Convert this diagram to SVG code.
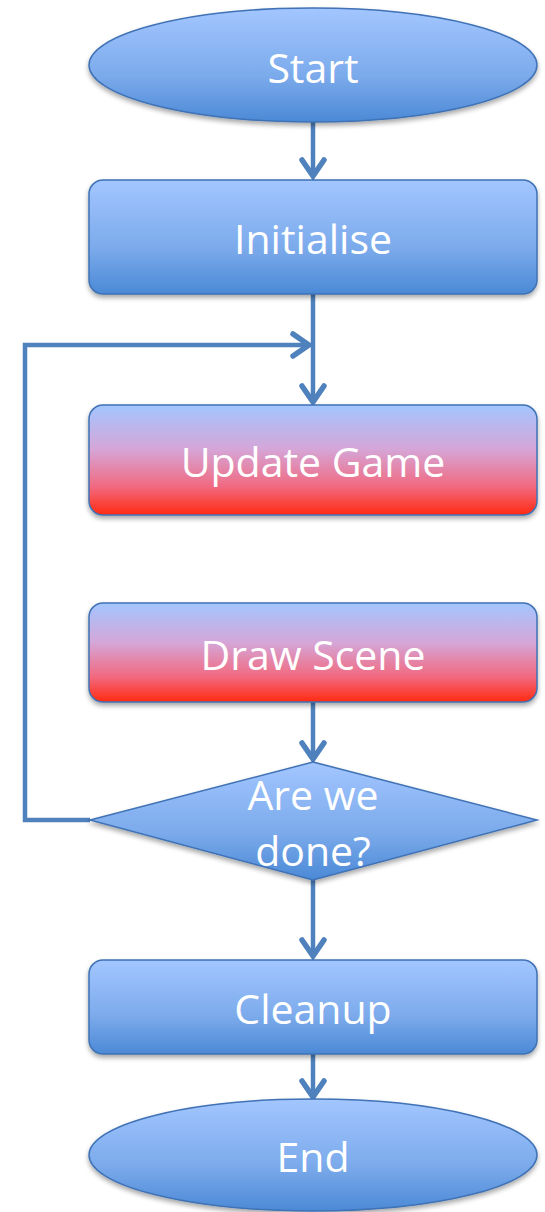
<svg xmlns="http://www.w3.org/2000/svg" width="545" height="1212" viewBox="0 0 545 1212">
<defs>
<linearGradient id="blue" x1="0" y1="0" x2="0" y2="1">
<stop offset="0" stop-color="#A3C6FF"/>
<stop offset="0.6" stop-color="#7BAAEB"/>
<stop offset="1" stop-color="#4B89D6"/>
</linearGradient>
<linearGradient id="red" x1="0" y1="0" x2="0" y2="1">
<stop offset="0" stop-color="#A3C6FF"/>
<stop offset="0.4" stop-color="#D5A6D8"/>
<stop offset="0.75" stop-color="#F2687E"/>
<stop offset="1" stop-color="#FF2A10"/>
</linearGradient>
<filter id="sh" x="-10%" y="-10%" width="120%" height="130%">
<feGaussianBlur in="SourceAlpha" stdDeviation="2.5"/>
<feOffset dx="0" dy="3" result="b"/>
<feComponentTransfer><feFuncA type="linear" slope="0.35"/></feComponentTransfer>
<feMerge><feMergeNode/><feMergeNode in="SourceGraphic"/></feMerge>
</filter>
<marker id="ah" viewBox="0 0 30 30" refX="26" refY="15" markerWidth="30" markerHeight="30" markerUnits="userSpaceOnUse" orient="auto">
<path d="M10,4 L26,15 L10,26" fill="none" stroke="#4F81BD" stroke-width="5.5" stroke-linecap="round" stroke-linejoin="miter"/>
</marker>
</defs>
<style>
.shape{stroke:#3F72B5;stroke-width:1.5;filter:url(#sh)}
.lbl{font-family:"Open Sans","Liberation Sans",sans-serif;font-size:41px;fill:#FFFFFF;text-anchor:middle}
.con{fill:none;stroke:#4F81BD;stroke-width:4.5}
</style>
<g id="connectors">
<path class="con" d="M313,122 L313,176" marker-end="url(#ah)"/>
<path class="con" d="M313,294 L313,402" marker-end="url(#ah)"/>
<path class="con" d="M90,820 L25,820 L25,345 L309,345" marker-end="url(#ah)"/>
<path class="con" d="M313,702 L313,759" marker-end="url(#ah)"/>
<path class="con" d="M313,880 L313,956" marker-end="url(#ah)"/>
<path class="con" d="M313,1054 L313,1097" marker-end="url(#ah)"/>
</g>
<g id="start">
<ellipse class="shape" cx="313" cy="65" rx="224" ry="57" fill="url(#blue)"/>
<text class="lbl" x="313" y="83">Start</text>
</g>
<g id="initialise">
<rect class="shape" x="89" y="180" width="448" height="114" rx="14" fill="url(#blue)"/>
<text class="lbl" x="313" y="254">Initialise</text>
</g>
<g id="update">
<rect class="shape" x="89" y="405" width="448" height="110" rx="14" fill="url(#red)"/>
<text class="lbl" x="313" y="477">Update Game</text>
</g>
<g id="draw">
<rect class="shape" x="89" y="603" width="448" height="99" rx="14" fill="url(#red)"/>
<text class="lbl" x="313" y="670">Draw Scene</text>
</g>
<g id="decision">
<polygon class="shape" points="313,762 537,820 313,880 90,820" fill="url(#blue)"/>
<text class="lbl" x="313" y="810">Are we</text>
<text class="lbl" x="313" y="866">done?</text>
</g>
<g id="cleanup">
<rect class="shape" x="89" y="960" width="448" height="94" rx="14" fill="url(#blue)"/>
<text class="lbl" x="313" y="1024">Cleanup</text>
</g>
<g id="end">
<ellipse class="shape" cx="313" cy="1155" rx="224" ry="56" fill="url(#blue)"/>
<text class="lbl" x="313" y="1172">End</text>
</g>
</svg>
